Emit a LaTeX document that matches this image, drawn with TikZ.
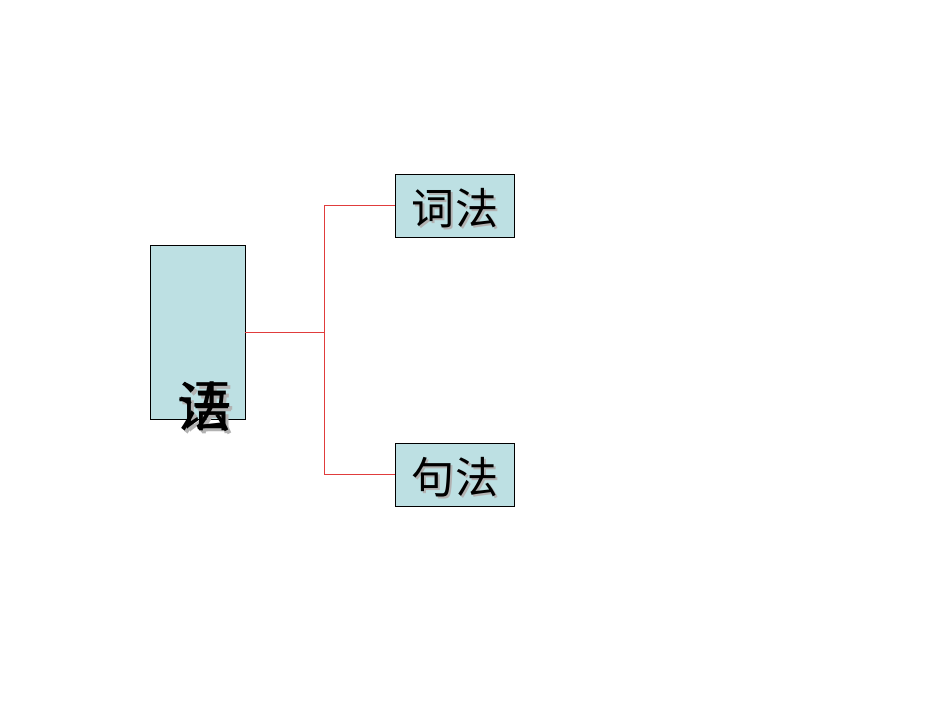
\documentclass[tikz,border=0pt]{standalone}
\usepackage{fontspec}
\newfontfamily\cjk{Noto Sans CJK SC}
\definecolor{boxfill}{HTML}{BDE0E3}
\definecolor{linkred}{HTML}{E03C3C}
\tikzset{
  termbox/.style={draw=black, fill=boxfill, line width=0.5pt, inner sep=0pt},
  termtext/.style={font=\cjk\fontsize{24.5}{24.5}\selectfont, inner sep=0pt},
  shadowtext/.style={termtext, text=gray!60},
  bigtext/.style={font=\cjk\fontsize{31}{31}\selectfont},
  link/.style={draw=linkred, line width=0.5pt}
}
\begin{document}
\begin{tikzpicture}

    % 页面范围
    \useasboundingbox (0,0) rectangle (19,14.26);

    % 左边的大框
    \node[termbox, minimum width=1.9cm, minimum height=3.48cm] (yufa) at (3.95,7.62) {};

    % 右边的两个框
    \node[termbox, minimum width=2.38cm, minimum height=1.26cm] (cifa) at (9.09,10.15) {};
    \node[termbox, minimum width=2.38cm, minimum height=1.26cm] (jufa) at (9.09,4.77) {};

    % 框里的字（带阴影）
    \node[shadowtext] (cifas) at (9.14,10.05) {词法};
    \node[termtext] (cifat) at (9.10,10.09) {词法};
    \node[shadowtext] (jufas) at (9.14,4.67) {句法};
    \node[termtext] (jufat) at (9.10,4.71) {句法};

    % 左框的字：两个字叠在一起
    \node[shadowtext, bigtext] (yus) at (4.16,6.06) {语};
    \node[shadowtext, bigtext] (fas) at (4.16,6.06) {法};
    \node[termtext, bigtext] (yu) at (4.10,6.12) {语};
    \node[termtext, bigtext] (fa) at (4.10,6.12) {法};

    % 连线
    \coordinate (fork) at (6.48,7.62);
    \draw[link] (yufa.east) -- (fork);
    \draw[link] (fork) |- (cifa.west);
    \draw[link] (fork) |- (jufa.west);

\end{tikzpicture}
\end{document}
